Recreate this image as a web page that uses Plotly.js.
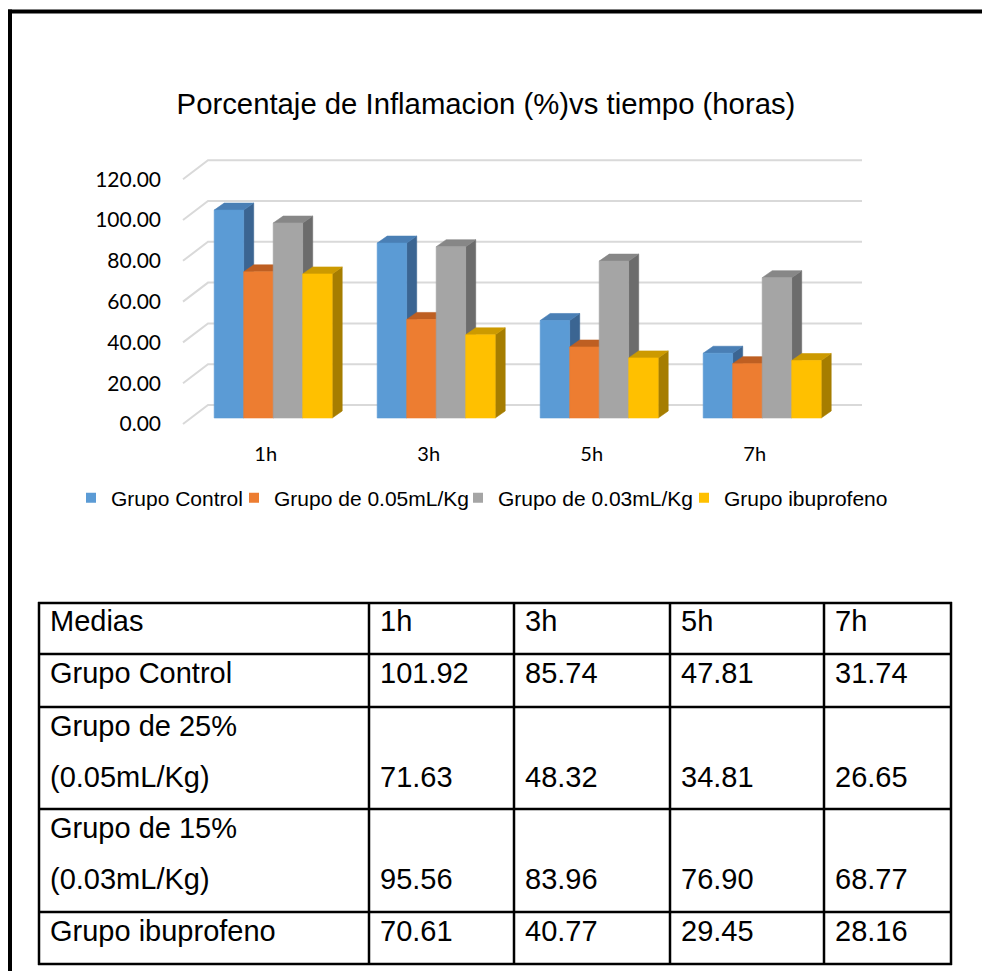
<!DOCTYPE html>
<html>
<head>
<meta charset="utf-8">
<script src="https://cdn.plot.ly/plotly-3.0.1.min.js"></script>
<style>
  html, body { margin: 0; padding: 0; background: #ffffff; }
  #chart { width: 982px; height: 971px; }
</style>
</head>
<body>
<div id="chart"></div>
<script>
// ---------------- DATA ----------------
const categories = ['1h', '3h', '5h', '7h'];
const seriesNames = ['Grupo Control', 'Grupo de 0.05mL/Kg', 'Grupo de 0.03mL/Kg', 'Grupo ibuprofeno'];
const grupoControl = [101.92, 85.74, 47.81, 31.74];
const grupo005 = [71.63, 48.32, 34.81, 26.65];
const grupo003 = [95.56, 83.96, 76.90, 68.77];
const grupoIbuprofeno = [70.61, 40.77, 29.45, 28.16];
const yTicks = [0, 20, 40, 60, 80, 100, 120];
const tableHeader = ['Medias', '1h', '3h', '5h', '7h'];
const tableRowLabels = [
  ['Grupo Control'],
  ['Grupo de 25%', '(0.05mL/Kg)'],
  ['Grupo de 15%', '(0.03mL/Kg)'],
  ['Grupo ibuprofeno']
];
const chartTitle = 'Porcentaje de Inflamacion (%)vs tiempo (horas)';

// ---------------- STYLE / GEOMETRY ----------------
const W = 982, H = 971;
const seriesValues = [grupoControl, grupo005, grupo003, grupoIbuprofeno];
const frontColors = ['#5B9BD5', '#ED7D31', '#A5A5A5', '#FFC000'];
const topColors   = ['#4A7FB5', '#BE5F22', '#878787', '#CC9A00'];
const sideColors  = ['#3B6592', '#A9561B', '#6C6C6C', '#A67D00'];
const legendWidths = [118, 179, 181, null];

const G = {
  plotL: 178, plotR: 866, plotT: 145, plotB: 432,
  baseY: 418, k: 2.04,           // px per unit (front plane)
  cat0X: 273.2, catPx: 163,      // centre of first group, px between groups
  barPx: 29.5,                   // bar width px
  depthX: 10, depthY: 7,         // bar depth in px
  floorFrontX: 183, floorDx: -7.5, floorDy: 6,  // front edge of floor
  wallX: 208, wallRight: 862, wallDy: 13
};
const xd = p => (p - G.cat0X) / G.catPx;
const yd = p => (G.baseY - p) / G.k;
const px = p => p / W;
const py = p => 1 - p / H;

const traces = [];

// gridlines (floor diagonal + back wall)
const gx = [], gy = [];
yTicks.forEach(v => {
  gx.push(xd(G.floorFrontX), xd(G.wallX), xd(G.wallRight), null);
  gy.push(v - G.floorDy / G.k, v + G.wallDy / G.k, v + G.wallDy / G.k, null);
});
traces.push({
  type: 'scatter', mode: 'lines', x: gx, y: gy,
  line: { color: '#D9D9D9', width: 2 }, hoverinfo: 'skip', showlegend: false
});

// 3D bars drawn as filled faces (painter's order: left to right)
const bw = G.barPx / G.catPx, ddx = G.depthX / G.catPx, ddy = G.depthY / G.k;
seriesValues.forEach((vals, s) => {
  const fx = [], fy = [], tx = [], ty = [], sx = [], sy = [];
  vals.forEach((v, i) => {
    const x0 = i + (-2 * G.barPx + s * G.barPx) / G.catPx;
    const x1 = x0 + bw;
    sx.push(x1, x1 + ddx, x1 + ddx, x1, x1, null);
    sy.push(0, ddy, v + ddy, v, 0, null);
    tx.push(x0, x1, x1 + ddx, x0 + ddx, x0, null);
    ty.push(v, v, v + ddy, v + ddy, v, null);
    fx.push(x0, x1, x1, x0, x0, null);
    fy.push(0, 0, v, v, 0, null);
  });
  const face = (x, y, c) => ({
    type: 'scatter', mode: 'lines', x: x, y: y, fill: 'toself', fillcolor: c,
    line: { color: c, width: 0.6 }, hoverinfo: 'skip', showlegend: false
  });
  traces.push(face(sx, sy, sideColors[s]));
  traces.push(face(tx, ty, topColors[s]));
  traces.push(face(fx, fy, frontColors[s]));
});

// legend entries
seriesNames.forEach((n, s) => {
  const t = {
    type: 'scatter', mode: 'markers', name: n, x: [null], y: [null],
    marker: { symbol: 'square', size: 10, color: frontColors[s] },
    hoverinfo: 'skip', showlegend: true
  };
  if (legendWidths[s]) t.legendwidth = legendWidths[s];
  traces.push(t);
});

// ---------------- TABLE (shapes + annotations) ----------------
const colBounds = [39, 369, 514, 670, 824, 951];
const rowBounds = [603, 654, 707, 809, 912, 964];
const shapes = [];
colBounds.forEach(c => shapes.push({
  type: 'line', xref: 'paper', yref: 'paper',
  x0: px(c), x1: px(c), y0: py(rowBounds[0] - 1), y1: py(rowBounds[rowBounds.length - 1] + 1),
  line: { color: '#000', width: 2.5 }
}));
rowBounds.forEach(r => shapes.push({
  type: 'line', xref: 'paper', yref: 'paper',
  x0: px(colBounds[0] - 1), x1: px(colBounds[colBounds.length - 1] + 1), y0: py(r), y1: py(r),
  line: { color: '#000', width: 2.5 }
}));
// outer page frame
shapes.push({ type: 'line', xref: 'paper', yref: 'paper', x0: px(8), x1: px(990), y0: py(11.5), y1: py(11.5), line: { color: '#000', width: 4 } });
shapes.push({ type: 'line', xref: 'paper', yref: 'paper', x0: px(10), x1: px(10), y0: py(9.5), y1: py(980), line: { color: '#000', width: 4 } });

const annotations = [];
const tFont = { family: 'Liberation Sans, Arial, sans-serif', size: 29, color: '#000' };
const firstLine = 19, lineStep = 51, padX = 9;
const cell = (text, col, yCenter) => annotations.push({
  xref: 'paper', yref: 'paper', x: px(colBounds[col] + padX), y: py(yCenter),
  xanchor: 'left', yanchor: 'middle', text: text, showarrow: false, font: tFont
});
tableHeader.forEach((h, c) => cell(h, c, rowBounds[0] + firstLine - 1));
tableRowLabels.forEach((lines, r) => {
  const top = rowBounds[r + 1];
  lines.forEach((t, li) => cell(t, 0, top + firstLine + li * lineStep));
  const lastY = top + firstLine + (lines.length - 1) * lineStep;
  seriesValues[r].forEach((v, i) => cell(v.toFixed(2), i + 1, lastY));
});

// ---------------- LAYOUT ----------------
const layout = {
  width: W, height: H,
  margin: { l: 0, r: 0, t: 0, b: 0 },
  paper_bgcolor: '#fff', plot_bgcolor: 'rgba(0,0,0,0)',
  hovermode: false,
  title: {
    text: chartTitle, x: px(486), xanchor: 'center', xref: 'paper',
    y: py(104), yanchor: 'middle', yref: 'paper',
    font: { family: 'Liberation Sans, Arial, sans-serif', size: 29.3, color: '#000' }
  },
  xaxis: {
    domain: [px(G.plotL), px(G.plotR)],
    range: [xd(G.plotL), xd(G.plotR)],
    // category labels sit on the front edge of the 3D floor
    tickvals: categories.map((c, i) => i + G.floorDx / G.catPx), ticktext: categories,
    showgrid: false, zeroline: false, showline: false, ticks: '',
    ticklabelstandoff: 8,
    tickfont: { family: 'Lato, sans-serif', size: 20, color: '#000' },
    fixedrange: true
  },
  yaxis: {
    domain: [py(G.plotB), py(G.plotT)],
    range: [yd(G.plotB), yd(G.plotT)],
    // value labels sit on the front edge of the 3D floor
    tickvals: yTicks.map(v => v - G.floorDy / G.k), ticktext: yTicks.map(v => v.toFixed(2)),
    showgrid: false, zeroline: false, showline: false, ticks: '',
    ticklabelstandoff: 16,
    tickfont: { family: 'Lato, sans-serif', size: 21, color: '#000' },
    fixedrange: true
  },
  legend: {
    orientation: 'h', x: px(71), xanchor: 'left', y: py(498), yanchor: 'middle',
    font: { family: 'Liberation Sans, Arial, sans-serif', size: 21, color: '#000' },
    bgcolor: 'rgba(0,0,0,0)', traceorder: 'normal'
  },
  shapes: shapes,
  annotations: annotations
};

Plotly.newPlot('chart', traces, layout, { displayModeBar: false, staticPlot: true });
</script>
</body>
</html>
